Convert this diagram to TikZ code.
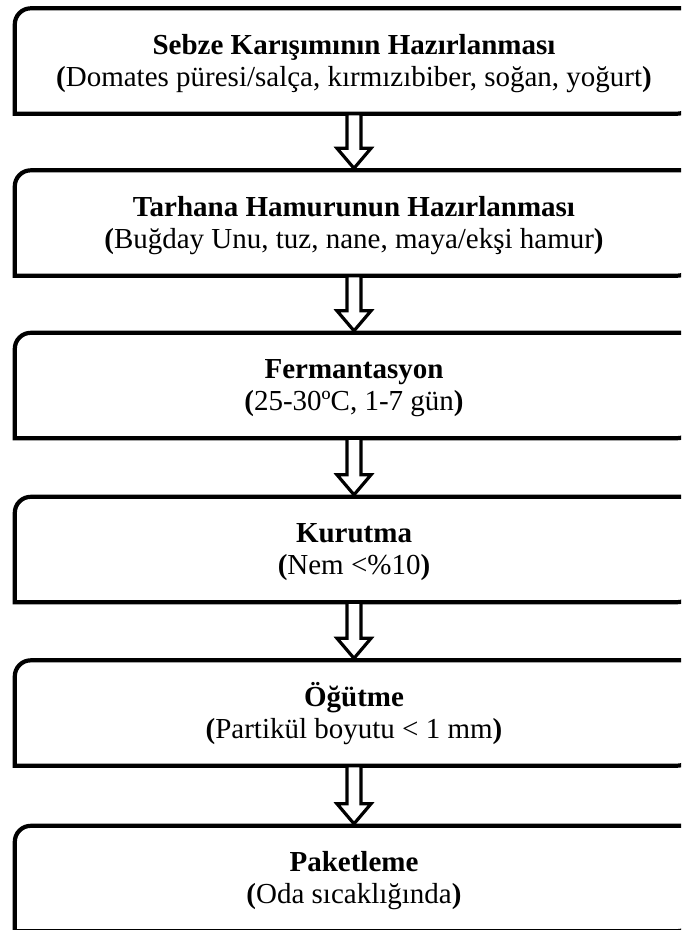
\documentclass[tikz,border=0pt]{standalone}
\usepackage{fontspec}
\setmainfont{Liberation Serif}
\usepackage{tikz}
\usetikzlibrary{calc}
\newcommand{\tstrut}{\rule[-7pt]{0pt}{32pt}}
\tikzset{
	stage/.style={minimum width=678pt,minimum height=105pt,inner sep=0pt,align=center,font=\fontsize{29}{32}\selectfont},
	stageline/.style={line width=4.2pt,black},
	blockarrow/.style={line width=3.2pt,black,fill=white,line join=miter}
}

\begin{document}
\begin{tikzpicture}[x=1pt,y=1pt]
	\useasboundingbox (0,0) rectangle (681,-930);
	\clip (0,0) rectangle (681,-930);
	\node[stage] (sebze) at (354,-61) {\tstrut\textbf{Sebze Karışımının Hazırlanması}\\\tstrut\textbf{(}Domates püresi/salça, kırmızıbiber, soğan, yoğurt\textbf{)}};
	\node[stage] (hamur) at (354,-223) {\tstrut\textbf{Tarhana Hamurunun Hazırlanması}\\\tstrut\textbf{(}Buğday Unu, tuz, nane, maya/ekşi hamur\textbf{)}};
	\node[stage] (ferment) at (354,-385.5) {\tstrut\textbf{Fermantasyon}\\\tstrut\textbf{(}25-30ºC, 1-7 gün\textbf{)}};
	\node[stage] (kurutma) at (354,-549.5) {\tstrut\textbf{Kurutma}\\\tstrut\textbf{(}Nem <\%10\textbf{)}};
	\node[stage] (ogutme) at (354,-713) {\tstrut\textbf{Öğütme}\\\tstrut\textbf{(}Partikül boyutu < 1 mm\textbf{)}};
	\node[stage] (paket) at (354,-878.5) {\tstrut\textbf{Paketleme}\\\tstrut\textbf{(}Oda sıcaklığında\textbf{)}};
	\foreach \s in {sebze,hamur,ferment,kurutma,ogutme,paket}
		\draw[stageline] (\s.south west) -- ([yshift=-16pt]\s.north west) arc[start angle=180,end angle=90,radius=16pt] -- (\s.north east) -- ([yshift=16pt]\s.south east) arc[start angle=0,end angle=-90,radius=16pt] -- cycle;
	\foreach \a/\b in {sebze/hamur,hamur/ferment,ferment/kurutma,kurutma/ogutme,ogutme/paket}
		\draw[blockarrow] ($(\a.south)+(-7,0)$) -- ($(\b.north)+(-7,22)$) -- ($(\b.north)+(-17,22)$) -- ($(\b.north)+(0,2)$) -- ($(\b.north)+(17,22)$) -- ($(\b.north)+(7,22)$) -- ($(\a.south)+(7,0)$) -- cycle;
\end{tikzpicture}
\end{document}
